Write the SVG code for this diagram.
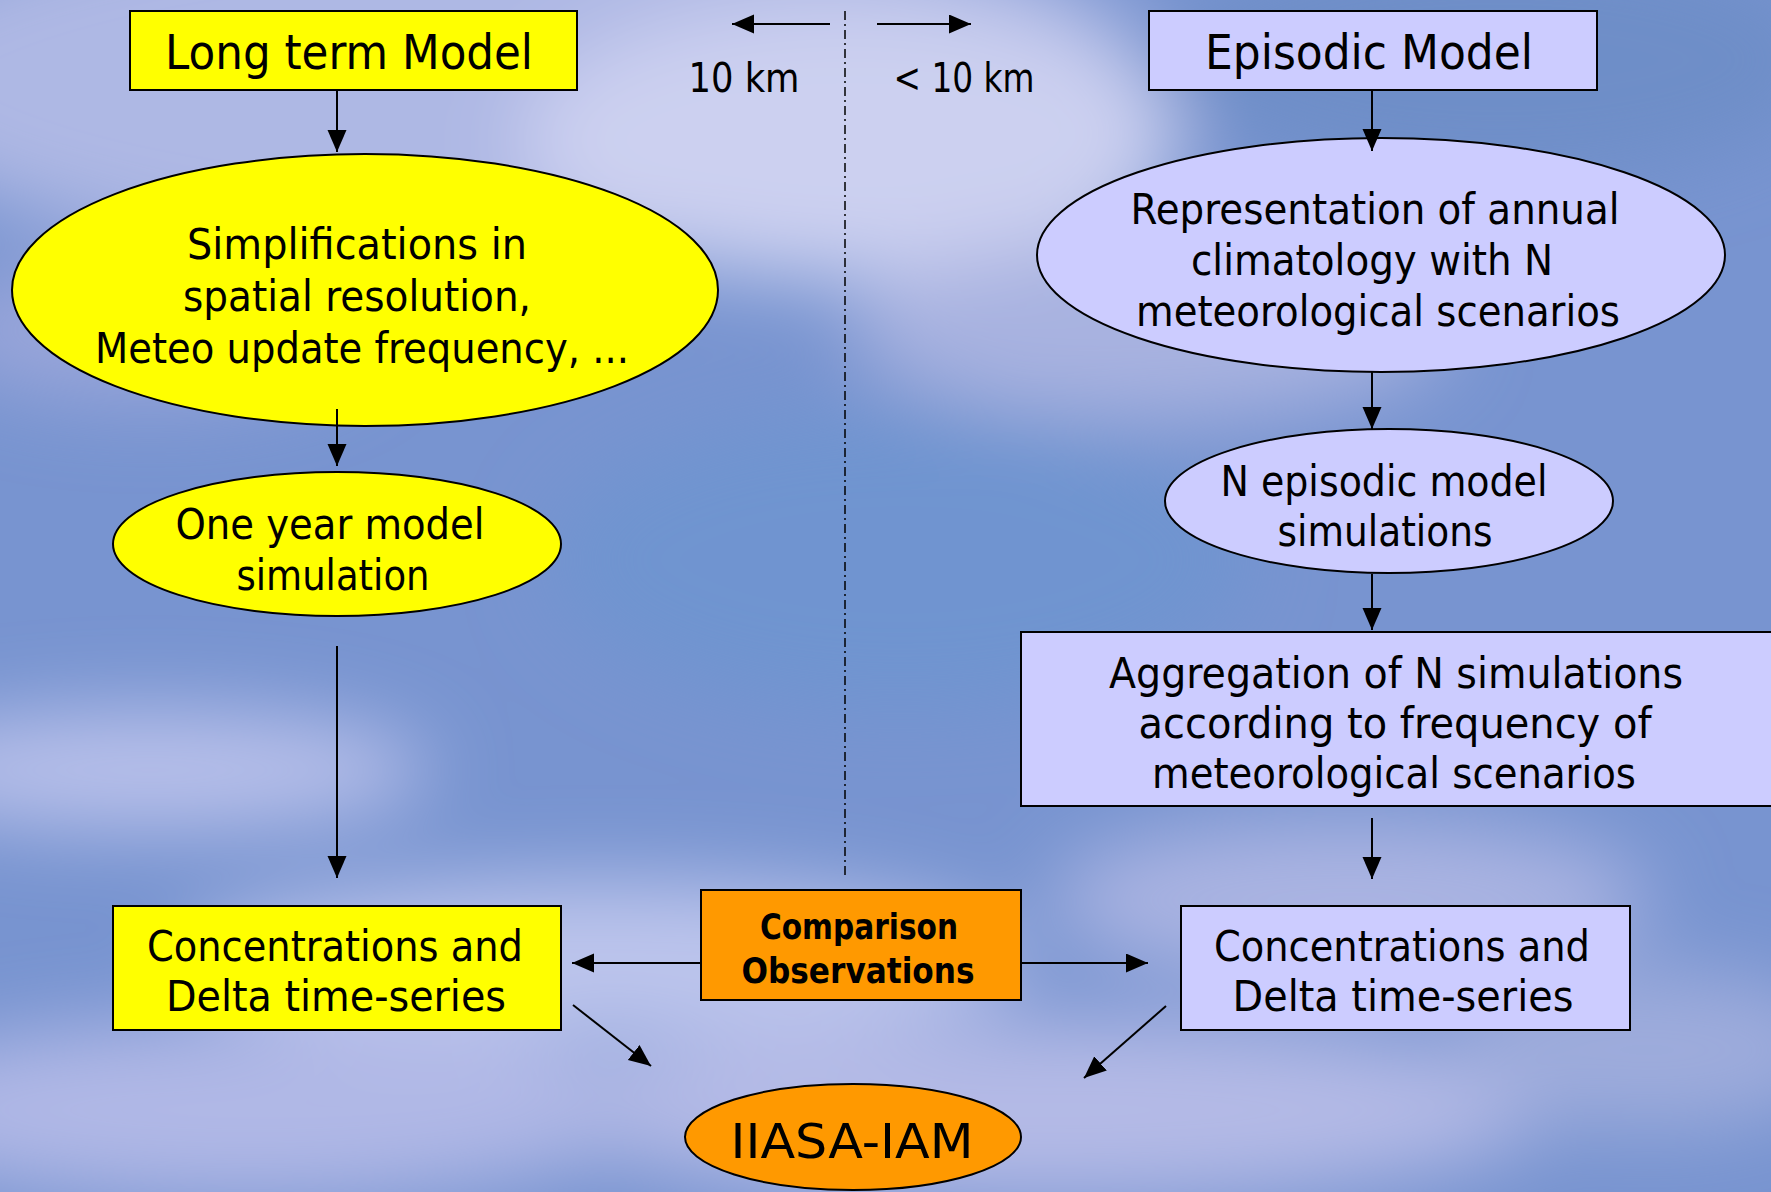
<svg xmlns="http://www.w3.org/2000/svg" width="1771" height="1192" viewBox="0 0 1771 1192">
<style>
text{font-family:"DejaVu Sans","Liberation Sans",sans-serif;fill:#000;text-anchor:middle}
.t{font-size:48px}
.b{font-size:42px}
.k{font-size:40px}
.c{font-size:36px;font-weight:bold}
.y{fill:#ffff00;stroke:#000;stroke-width:2}
.l{fill:#ccccff;stroke:#000;stroke-width:2}
.o{fill:#ff9900;stroke:#000;stroke-width:2}
.a{stroke:#000;stroke-width:2;fill:none;marker-end:url(#ah)}
</style>
<defs>
<marker id="ah" markerUnits="userSpaceOnUse" markerWidth="24" markerHeight="20" refX="22" refY="9.5" orient="auto">
<path d="M0,0 L22,9.5 L0,19 z" fill="#000"/>
</marker>
<filter id="blur" x="-50%" y="-50%" width="200%" height="200%"><feGaussianBlur stdDeviation="40"/></filter>
</defs>
<g id="background">
<rect width="1771" height="1192" fill="#7894d0"/>
<g filter="url(#blur)">
<ellipse cx="500" cy="80" rx="650" ry="190" fill="#aeb8e4"/>
<ellipse cx="850" cy="140" rx="330" ry="140" fill="#ccd0f0"/>
<ellipse cx="1500" cy="60" rx="330" ry="120" fill="#6e8ec8"/>
<ellipse cx="1150" cy="330" rx="300" ry="90" fill="#a8b2e0"/>
<ellipse cx="150" cy="330" rx="220" ry="70" fill="#9aa6da"/>
<ellipse cx="900" cy="560" rx="350" ry="150" fill="#7094d0"/>
<ellipse cx="150" cy="770" rx="280" ry="60" fill="#b8c0ea"/>
<ellipse cx="600" cy="960" rx="420" ry="80" fill="#bcc4ec"/>
<ellipse cx="250" cy="1110" rx="400" ry="90" fill="#b0b8e6"/>
<ellipse cx="1050" cy="1110" rx="500" ry="90" fill="#b4bae6"/>
<ellipse cx="1350" cy="900" rx="300" ry="80" fill="#aab4e2"/>
<ellipse cx="1650" cy="1050" rx="200" ry="80" fill="#9eacdc"/>
</g>
</g>
<g id="scale-labels">
<text class="k" x="744" y="92" textLength="111" lengthAdjust="spacingAndGlyphs">10 km</text>
<text class="k" x="964" y="92" textLength="141" lengthAdjust="spacingAndGlyphs">&lt; 10 km</text>
</g>
<g id="long-term-model">
<rect class="y" x="130" y="11" width="447" height="79"/>
<text class="t" x="349" y="69" textLength="368" lengthAdjust="spacingAndGlyphs">Long term Model</text>
</g>
<g id="simplifications">
<ellipse class="y" cx="365" cy="290" rx="353" ry="136"/>
<text class="b" x="357" y="259" textLength="340" lengthAdjust="spacingAndGlyphs">Simplifications in</text>
<text class="b" x="357" y="311" textLength="348" lengthAdjust="spacingAndGlyphs">spatial resolution,</text>
<text class="b" x="362" y="363" textLength="534" lengthAdjust="spacingAndGlyphs">Meteo update frequency, ...</text>
</g>
<g id="one-year">
<ellipse class="y" cx="337" cy="544" rx="224" ry="72"/>
<text class="b" x="330" y="539" textLength="309" lengthAdjust="spacingAndGlyphs">One year model</text>
<text class="b" x="333" y="590" textLength="193" lengthAdjust="spacingAndGlyphs">simulation</text>
</g>
<g id="conc-left">
<rect class="y" x="113" y="906" width="448" height="124"/>
<text class="b" x="335" y="961" textLength="376" lengthAdjust="spacingAndGlyphs">Concentrations and</text>
<text class="b" x="336" y="1011" textLength="340" lengthAdjust="spacingAndGlyphs">Delta time-series</text>
</g>
<g id="comparison">
<rect class="o" x="701" y="890" width="320" height="110"/>
<text class="c" x="859" y="939" textLength="198" lengthAdjust="spacingAndGlyphs">Comparison</text>
<text class="c" x="858" y="983" textLength="233" lengthAdjust="spacingAndGlyphs">Observations</text>
</g>
<g id="iiasa">
<ellipse class="o" cx="853" cy="1137" rx="168" ry="53"/>
<text class="t" x="852" y="1158" textLength="243" lengthAdjust="spacingAndGlyphs">IIASA-IAM</text>
</g>
<g id="episodic-model">
<rect class="l" x="1149" y="11" width="448" height="79"/>
<text class="t" x="1369" y="69" textLength="328" lengthAdjust="spacingAndGlyphs">Episodic Model</text>
</g>
<g id="representation">
<ellipse class="l" cx="1381" cy="255" rx="344" ry="117"/>
<text class="b" x="1375" y="224" textLength="489" lengthAdjust="spacingAndGlyphs">Representation of annual</text>
<text class="b" x="1372" y="275" textLength="362" lengthAdjust="spacingAndGlyphs">climatology with N</text>
<text class="b" x="1378" y="326" textLength="484" lengthAdjust="spacingAndGlyphs">meteorological scenarios</text>
</g>
<g id="n-episodic">
<ellipse class="l" cx="1389" cy="501" rx="224" ry="72"/>
<text class="b" x="1384" y="496" textLength="327" lengthAdjust="spacingAndGlyphs">N episodic model</text>
<text class="b" x="1385" y="546" textLength="215" lengthAdjust="spacingAndGlyphs">simulations</text>
</g>
<g id="aggregation">
<rect class="l" x="1021" y="632" width="770" height="174"/>
<text class="b" x="1396" y="688" textLength="574" lengthAdjust="spacingAndGlyphs">Aggregation of N simulations</text>
<text class="b" x="1395" y="738" textLength="513" lengthAdjust="spacingAndGlyphs">according to frequency of</text>
<text class="b" x="1394" y="788" textLength="484" lengthAdjust="spacingAndGlyphs">meteorological scenarios</text>
</g>
<g id="conc-right">
<rect class="l" x="1181" y="906" width="449" height="124"/>
<text class="b" x="1402" y="961" textLength="376" lengthAdjust="spacingAndGlyphs">Concentrations and</text>
<text class="b" x="1403" y="1011" textLength="341" lengthAdjust="spacingAndGlyphs">Delta time-series</text>
</g>
<g id="connectors">
<line x1="845" y1="11" x2="845" y2="878" stroke="#000" stroke-width="1.5" stroke-dasharray="9,4,2,4"/>
<line class="a" x1="830" y1="24" x2="732" y2="24"/>
<line class="a" x1="877" y1="24" x2="971" y2="24"/>
<line class="a" x1="337" y1="90" x2="337" y2="152"/>
<line class="a" x1="337" y1="409" x2="337" y2="466"/>
<line class="a" x1="337" y1="646" x2="337" y2="878"/>
<line class="a" x1="1372" y1="90" x2="1372" y2="151"/>
<line class="a" x1="1372" y1="371" x2="1372" y2="429"/>
<line class="a" x1="1372" y1="574" x2="1372" y2="630"/>
<line class="a" x1="1372" y1="818" x2="1372" y2="879"/>
<line class="a" x1="701" y1="963" x2="572" y2="963"/>
<line class="a" x1="1021" y1="963" x2="1148" y2="963"/>
<line class="a" x1="573" y1="1005" x2="651" y2="1066"/>
<line class="a" x1="1166" y1="1006" x2="1084" y2="1078"/>
</g>
</svg>
